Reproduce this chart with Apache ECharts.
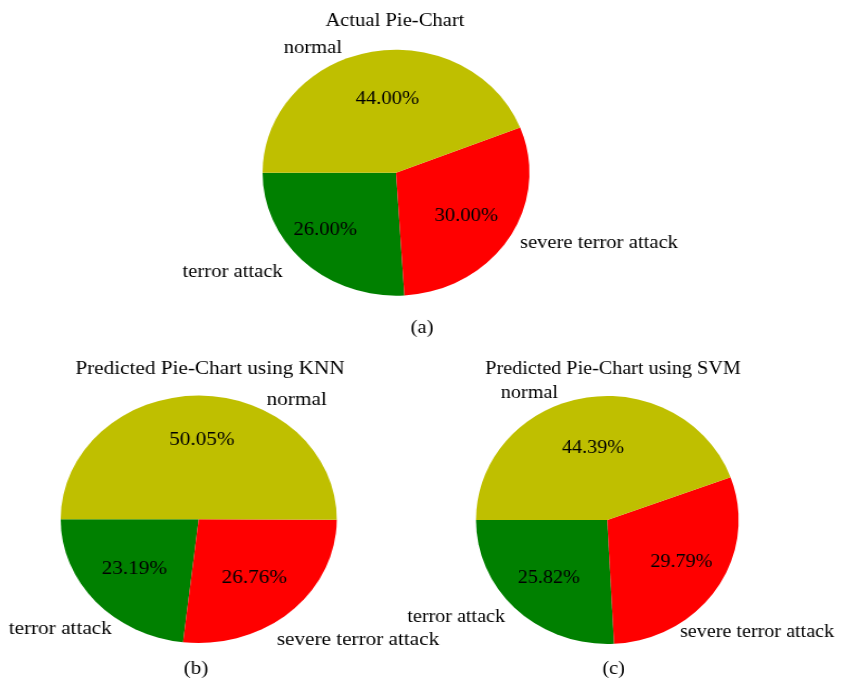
<!DOCTYPE html>
<html>
<head>
<meta charset="utf-8">
<title>Pie charts: actual vs predicted</title>
<script src="https://cdn.jsdelivr.net/npm/echarts@6/dist/echarts.min.js"></script>
<style>
  html, body { margin: 0; padding: 0; background: #ffffff; }
  #wrap { position: relative; width: 852px; height: 682px; overflow: hidden; background: #ffffff; }
  .panel { position: absolute; left: 0; top: 0; width: 852px; height: 682px; }
</style>
</head>
<body>
<div id="wrap">
  <div class="panel" id="pa"></div>
  <div class="panel" id="pb"></div>
  <div class="panel" id="pc"></div>
</div>
<script>
// Class names, in drawing order (counter-clockwise from 9 o'clock)
const categories = ['terror attack', 'severe terror attack', 'normal'];

// Share of each class, in percent
const actualShare = [26.00, 30.00, 44.00];
const knnShare = [23.19, 26.76, 50.05];
const svmShare = [25.82, 29.79, 44.39];

// Panel headings and tags
const panelTitles = ['Actual Pie-Chart', 'Predicted Pie-Chart using KNN', 'Predicted Pie-Chart using SVM'];
const panelTags = ['(a)', '(b)', '(c)'];

// Styling
const sliceColors = ['#008000', '#ff0000', '#bfbf00'];
const FONT = '"Liberation Serif", "Times New Roman", serif';
const FONT_SIZE = 19;
const TEXT_DROP = 1.8; // baseline nudge for the canvas text

// Placement of each panel; each pie is stretched horizontally by sx
const panels = [
  {
    el: 'pa', values: actualShare, title: panelTitles[0], tag: panelTags[0],
    cx: 396, cy: 172.7, r: 123, sx: 1.085,
    titleX: 395, titleY: 19.6, tagX: 420, tagY: 326.6,
    nameShift: [[-11.8, -1], [0, -3.9], [-24.4, 6.1]],
    pctShift: [[-12.6, -0.7], [0, 0], [6.5, 0]]
  },
  {
    el: 'pb', values: knnShare, title: panelTitles[1], tag: panelTags[1],
    cx: 198.7, cy: 519.3, r: 123.7, sx: 1.116,
    titleX: 208.8, titleY: 367.6, tagX: 196.3, tagY: 667.6,
    nameShift: [[23.6, 17.7], [-20.5, 17.6], [60.7, 15.4]],
    pctShift: [[0, -3.2], [-1.5, -1], [2.6, -3.4]]
  },
  {
    el: 'pc', values: svmShare, title: panelTitles[2], tag: panelTags[2],
    cx: 607.3, cy: 520, r: 124, sx: 1.059,
    titleX: 612.7, titleY: 367.6, tagX: 613.2, tagY: 667.6,
    nameShift: [[-2.6, -3.6], [-45.2, 34.8], [-22.7, 5.9]],
    pctShift: [[-2, 0], [5.4, -2.2], [0, 2.5]]
  }
];

function textEl(text, x, y) {
  return {
    type: 'text', x: x, y: y + TEXT_DROP, silent: true,
    style: {
      text: text, fill: '#000000',
      fontSize: FONT_SIZE, fontFamily: FONT,
      align: 'center', verticalAlign: 'middle',
      textAlign: 'center', textVerticalAlign: 'middle'
    }
  };
}

panels.forEach(function (p) {
  const dom = document.getElementById(p.el);
  dom.style.transformOrigin = p.cx + 'px ' + p.cy + 'px';
  dom.style.transform = 'scaleX(' + p.sx + ')';

  const chart = echarts.init(dom, null, { renderer: 'canvas', width: 852, height: 682 });

  const labelFont = { color: '#000000', fontSize: FONT_SIZE, fontFamily: FONT };

  chart.setOption({
    animation: false,
    backgroundColor: 'transparent',
    textStyle: { fontFamily: FONT },
    graphic: [
      textEl(p.title, p.titleX, p.titleY),
      textEl(p.tag, p.tagX, p.tagY)
    ],
    series: [
      {
        // the wedges, with class names just outside the rim
        type: 'pie',
        center: [p.cx, p.cy],
        radius: p.r,
        startAngle: 180,
        clockwise: false,
        silent: true,
        avoidLabelOverlap: false,
        itemStyle: { borderWidth: 0 },
        label: Object.assign({
          show: true, position: 'outside', alignTo: 'none',
          distanceToLabelLine: 0, formatter: '{b}'
        }, labelFont),
        labelLine: { show: false, length: 0.1 * p.r, length2: 0 },
        labelLayout: function (params) {
          const s = p.nameShift[params.dataIndex];
          return { dx: s[0], dy: s[1] + TEXT_DROP };
        },
        data: categories.map(function (name, i) {
          return { name: name, value: p.values[i], itemStyle: { color: sliceColors[i] } };
        })
      },
      {
        // transparent twin at 1.2r so that 'inside' labels sit at 0.6r
        type: 'pie',
        center: [p.cx, p.cy],
        radius: 1.2 * p.r,
        startAngle: 180,
        clockwise: false,
        silent: true,
        avoidLabelOverlap: false,
        itemStyle: { color: 'rgba(0,0,0,0)', borderWidth: 0 },
        label: Object.assign({
          show: true, position: 'inside',
          formatter: function (d) { return d.value.toFixed(2) + '%'; }
        }, labelFont),
        labelLine: { show: false },
        labelLayout: function (params) {
          const s = p.pctShift[params.dataIndex];
          return { dx: s[0], dy: s[1] + TEXT_DROP };
        },
        data: categories.map(function (name, i) {
          return { name: name, value: p.values[i] };
        })
      }
    ]
  });
});
</script>
</body>
</html>
